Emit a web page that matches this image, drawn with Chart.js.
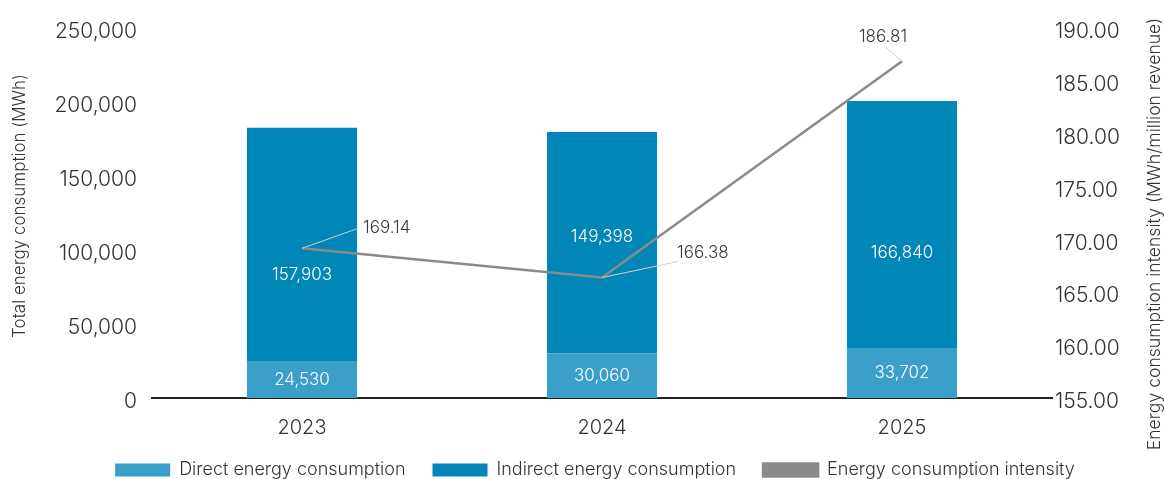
<!DOCTYPE html>
<html>
<head>
<meta charset="utf-8">
<script src="https://cdn.jsdelivr.net/npm/chart.js@4.4.0/dist/chart.umd.min.js"></script>
<style>
  html, body { margin: 0; padding: 0; background: #ffffff; }
</style>
</head>
<body>
<canvas id="energyChart" width="1164" height="479"></canvas>
<script>
// data
const years = ["2023", "2024", "2025"];
const directEnergy = [24530, 30060, 33702];
const indirectEnergy = [157903, 149398, 166840];
const intensity = [169.14, 166.38, 186.81];
const leftTicks = [0, 50000, 100000, 150000, 200000, 250000];
const rightTicks = [155, 160, 165, 170, 175, 180, 185, 190];

// label placement tweaks
const indirectLabelShift = [30, -6, 28];
const callouts = [
  { dx: 56, dy: -20, tx: 5, ty: 0, align: "left" },
  { dx: 76, dy: -16, tx: -1, ty: -9, align: "left" },
  { dx: -16, dy: -14, tx: -3, ty: -10, align: "center" }
];

const FONT = "Inter, 'Liberation Sans', Arial, sans-serif";
const TEXT = "#333333";
const DIRECT = "#3aa0c9";
const INDIRECT = "#0087b7";
const GREY = "#8a8a8a";

// value labels on bars and callouts on the intensity line
const valueLabels = {
  id: "valueLabels",
  afterDatasetsDraw(chart) {
    const ctx = chart.ctx;
    ctx.save();
    ctx.font = "300 17px " + FONT;
    ctx.textBaseline = "middle";
    [0, 1].forEach(di => {
      const values = chart.data.datasets[di].data;
      chart.getDatasetMeta(di).data.forEach((bar, i) => {
        const shift = di === 1 ? indirectLabelShift[i] : 0;
        ctx.fillStyle = "#ffffff";
        ctx.textAlign = "center";
        ctx.fillText(values[i].toLocaleString("en-US"), bar.x, (bar.y + bar.base) / 2 + shift);
      });
    });
    chart.getDatasetMeta(2).data.forEach((pt, i) => {
      const c = callouts[i];
      const ex = pt.x + c.dx, ey = pt.y + c.dy;
      ctx.strokeStyle = "#cfcfcf";
      ctx.lineWidth = 1;
      ctx.beginPath();
      ctx.moveTo(pt.x, pt.y);
      ctx.lineTo(ex, ey);
      ctx.stroke();
      ctx.fillStyle = "#3a3a3a";
      ctx.textAlign = c.align;
      ctx.fillText(intensity[i].toFixed(2), ex + c.tx, ey + c.ty);
    });
    ctx.restore();
  }
};

// rotated axis titles
const axisTitles = {
  id: "axisTitles",
  afterDraw(chart) {
    const ctx = chart.ctx;
    ctx.save();
    ctx.fillStyle = TEXT;
    ctx.textAlign = "center";
    ctx.textBaseline = "middle";
    [[20, 206, 17, "Total energy consumption (MWh)"],
     [1155, 234, 17.6, "Energy consumption intensity (MWh/million revenue)"]].forEach(([x, y, size, t]) => {
      ctx.save();
      ctx.font = "300 " + size + "px " + FONT;
      ctx.translate(x, y);
      ctx.rotate(-Math.PI / 2);
      ctx.fillText(t, 0, 0);
      ctx.restore();
    });
    ctx.restore();
  }
};

new Chart(document.getElementById("energyChart"), {
  type: "bar",
  data: {
    labels: years,
    datasets: [
      {
        label: "Direct energy consumption",
        data: directEnergy,
        backgroundColor: DIRECT,
        yAxisID: "y",
        order: 2,
        barPercentage: 0.367,
        categoryPercentage: 1
      },
      {
        label: "Indirect energy consumption",
        data: indirectEnergy,
        backgroundColor: INDIRECT,
        yAxisID: "y",
        order: 2,
        barPercentage: 0.367,
        categoryPercentage: 1
      },
      {
        type: "line",
        label: "Energy consumption intensity",
        data: intensity,
        borderColor: GREY,
        backgroundColor: GREY,
        borderWidth: 2.5,
        pointRadius: 0,
        tension: 0,
        yAxisID: "y1",
        order: 1
      }
    ]
  },
  options: {
    responsive: false,
    animation: false,
    // left padding nudges the centred legend; the y axis width makes up for it
    layout: { padding: { top: 26, bottom: 0, left: 26, right: 0 } },
    plugins: {
      tooltip: { enabled: false },
      legend: {
        position: "bottom",
        maxHeight: 45,
        labels: {
          boxWidth: 55,
          boxHeight: 13,
          padding: 27,
          color: TEXT,
          font: { family: FONT, size: 18, weight: 300 },
          sort: (a, b) => a.datasetIndex - b.datasetIndex
        }
      }
    },
    scales: {
      x: {
        stacked: true,
        grid: { display: false, drawTicks: false },
        border: { display: true, color: "#222222", width: 2 },
        ticks: { color: TEXT, padding: 18, font: { family: FONT, size: 20, weight: 300 } },
        afterFit(scale) { scale.height = 36; }
      },
      y: {
        stacked: true,
        position: "left",
        min: leftTicks[0],
        max: leftTicks[leftTicks.length - 1],
        grid: { display: false, drawTicks: false },
        border: { display: false },
        ticks: {
          stepSize: leftTicks[1] - leftTicks[0],
          padding: 15,
          labelOffset: 4,
          color: TEXT,
          font: { family: FONT, size: 21, weight: 300 },
          callback: v => v.toLocaleString("en-US")
        },
        afterFit(scale) { scale.width = 126; }
      },
      y1: {
        position: "right",
        min: rightTicks[0],
        max: rightTicks[rightTicks.length - 1],
        grid: { display: false, drawTicks: false },
        border: { display: false },
        ticks: {
          stepSize: rightTicks[1] - rightTicks[0],
          padding: 3,
          labelOffset: 4,
          color: TEXT,
          font: { family: FONT, size: 21, weight: 300 },
          callback: v => v.toFixed(2)
        },
        afterFit(scale) { scale.width = 112; }
      }
    }
  },
  plugins: [valueLabels, axisTitles]
});
</script>
</body>
</html>
